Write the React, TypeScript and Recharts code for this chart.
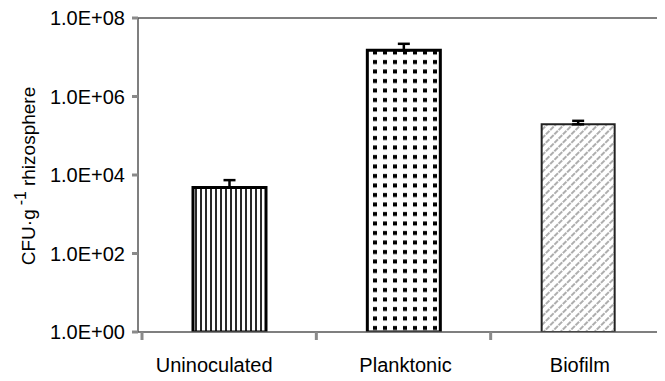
import { BarChart, Bar, XAxis, YAxis, Cell, ErrorBar, ReferenceLine } from 'recharts'

const categories = ['Uninoculated', 'Planktonic', 'Biofilm']
const cfuValues = [4800, 1.5e7, 1.95e5]
const upperErrors = [2600, 7e6, 4.5e4]
const yTicks = [1, 1e2, 1e4, 1e6, 1e8]

const data = categories.map((name, i) => ({
  name,
  cfu: cfuValues[i],
  err: [0, upperErrors[i]],
}))

const FILLS = ['url(#vlines)', 'url(#dots)', 'url(#diag)']
const STROKES = [
  { stroke: '#000', width: 3 },
  { stroke: '#000', width: 3 },
  { stroke: '#222', width: 2 },
]
// small nudges of the category labels, as in the original figure
const LABEL_DX = [-15, 2, 2]

const FONT = '"Liberation Sans", Arial, sans-serif'

function formatSci(v: number): string {
  const exp = Math.round(Math.log10(v))
  return `1.0E+${String(exp).padStart(2, '0')}`
}

function YTick(props: any) {
  const { x, y, payload } = props
  return (
    <g>
      <line x1={x - 6} x2={x} y1={y} y2={y} stroke="#8a8a8a" strokeWidth={3} />
      <text x={x - 13} y={y + 7} textAnchor="end" fontSize={20} fontFamily={FONT} fill="#000">
        {formatSci(payload.value)}
      </text>
    </g>
  )
}

function XTick(props: any) {
  const { x, y, payload, index, width, visibleTicksCount } = props
  const band = (width - 4) / (visibleTicksCount || 3)
  const markX = x - band / 2
  return (
    <g>
      <line x1={markX} x2={markX} y1={y} y2={y + 8} stroke="#8a8a8a" strokeWidth={3} />
      <text x={x + LABEL_DX[index]} y={y + 40} textAnchor="middle" fontSize={20} fontFamily={FONT} fill="#000">
        {payload.value}
      </text>
    </g>
  )
}

export default function App() {
  return (
    <div style={{ position: 'relative', width: 665, height: 381, margin: -8, background: '#fff' }}>
      <BarChart
        width={665}
        height={381}
        data={data}
        margin={{ top: 18, right: 0, bottom: 0, left: 0 }}
        barCategoryGap={0}
      >
        <defs>
          <pattern id="vlines" width={5} height={10} patternUnits="userSpaceOnUse">
            <rect width={5} height={10} fill="#fff" />
            <line x1={1} x2={1} y1={0} y2={10} stroke="#2a2a2a" strokeWidth={2} />
          </pattern>
          <pattern id="dots" width={10} height={9.5} patternUnits="userSpaceOnUse">
            <rect width={10} height={9.5} fill="#fff" />
            <rect x={3} y={3} width={4} height={4} fill="#000" />
          </pattern>
          <pattern id="diag" width={6} height={6} patternUnits="userSpaceOnUse" patternTransform="rotate(45)">
            <rect width={6} height={6} fill="#fff" />
            <line x1={1} x2={1} y1={0} y2={6} stroke="#9a9a9a" strokeWidth={1.6} strokeDasharray="3 1" />
          </pattern>
        </defs>
        <XAxis
          dataKey="name"
          height={49}
          padding={{ left: 4, right: 0 }}
          axisLine={{ stroke: '#555', strokeWidth: 1.5 }}
          tickLine={false}
          tickSize={0}
          tickMargin={0}
          tick={<XTick />}
          interval={0}
        />
        <YAxis
          scale="log"
          domain={[1, 1e8]}
          ticks={yTicks}
          width={138}
          allowDataOverflow
          axisLine={{ stroke: '#555', strokeWidth: 1.5 }}
          tickLine={false}
          tickSize={0}
          tickMargin={0}
          tick={<YTick />}
        />
        <ReferenceLine y={1e8} stroke="#555" strokeWidth={1.5} />
        <Bar dataKey="cfu" barSize={73} isAnimationActive={false}>
          {data.map((d, i) => (
            <Cell key={d.name} fill={FILLS[i]} stroke={STROKES[i].stroke} strokeWidth={STROKES[i].width} />
          ))}
          <ErrorBar dataKey="err" width={6} stroke="#000" strokeWidth={2.5} direction="y" />
        </Bar>
      </BarChart>
      <svg width={60} height={381} style={{ position: 'absolute', left: 0, top: 0 }}>
        <text
          transform="translate(28 176) rotate(-90)"
          textAnchor="middle"
          dominantBaseline="central"
          fontSize={19}
          fontFamily={FONT}
          fill="#000"
        >
          CFU·g
          <tspan dx={4} dy={-8} fontSize={16}>-1</tspan>
          <tspan dx={5} dy={8}>rhizosphere</tspan>
        </text>
      </svg>
    </div>
  )
}
